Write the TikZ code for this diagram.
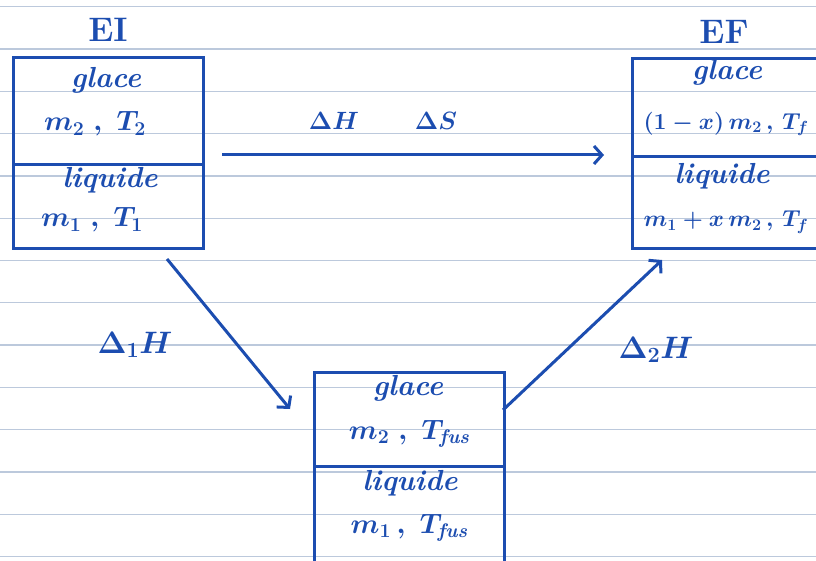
\RequirePackage{fix-cm}
\documentclass[tikz,border=0pt]{standalone}
\usetikzlibrary{arrows.meta,calc}
\definecolor{ink}{HTML}{1C4DB0}
\definecolor{ruling}{HTML}{BCC9DC}
\begin{document}
\begin{tikzpicture}[x=1pt,y=-1pt,
  box/.style={draw=ink, line width=3pt, rectangle, inner sep=0pt, anchor=north west},
  sep/.style={draw=ink, line width=3pt},
  lbl/.style={text=ink, inner sep=1pt, font=\fontsize{29}{34}\selectfont\boldmath\bfseries},
  frm/.style={text=ink, inner sep=1pt, font=\fontsize{28}{32}\selectfont\boldmath\bfseries},
  dlt/.style={text=ink, inner sep=1pt, font=\fontsize{25}{30}\selectfont\boldmath\bfseries},
  ttl/.style={text=ink, inner sep=1pt, font=\fontsize{34}{40}\selectfont\boldmath\bfseries},
  small/.style={text=ink, inner sep=1pt, font=\fontsize{23}{28}\selectfont\boldmath\bfseries},
  big/.style={text=ink, inner sep=1pt, font=\fontsize{31}{36}\selectfont\boldmath},
  arr/.style={draw=ink, line width=3pt, -{Straight Barb[length=8pt,width=18pt,line width=3pt]}}]
\clip (0,0) rectangle (816,561);
\fill[white] (0,0) rectangle (816,561);
\foreach \k in {0,...,13} \draw[ruling, line width=1.3pt] (0,{6.7+42.3*\k}) -- (816,{6.7+42.3*\k});

% boxes
\node[box, minimum width=190pt, minimum height=191pt] (ei) at (12,56) {};
\node[box, minimum width=200pt, minimum height=190pt] (ef) at (631,57) {};
\node[box, minimum width=190pt, minimum height=200pt] (mid) at (313,371) {};
\draw[sep] ($(ei.north west)!0.56!(ei.south west)$) -- ($(ei.north east)!0.56!(ei.south east)$);
\draw[sep] ($(ef.north west)!0.516!(ef.south west)$) -- ($(ef.north east)!0.516!(ef.south east)$);
\draw[sep] ($(mid.north west)!0.47!(mid.south west)$) -- ($(mid.north east)!0.47!(mid.south east)$);

% titles
\node[ttl] (tEI) at (108,30) {$\mathrm{EI}$};
\node[ttl] (tEF) at (724,32) {$\mathrm{EF}$};

% EI contents
\node[lbl] (eig) at (106,80) {\textit{glace}};
\node[frm] (eim) at (95,124) {$m_2\;,\;T_2$};
\node[lbl] (eil) at (110,180) {\textit{liquide}};
\node[frm] (eit) at (92,220) {$m_1\;,\;T_1$};

% EF contents
\node[lbl] (efg) at (727,72) {\textit{glace}};
\node[small] (efm) at (726,124) {$(1-x)\,m_2\,,\,T_f$};
\node[lbl] (efl) at (722,176) {\textit{liquide}};
\node[small] (eft) at (726,222) {$m_1+x\,m_2\,,\,T_f$};

% middle contents
\node[lbl] (mg) at (408,388) {\textit{glace}};
\node[frm] (mm) at (410,434) {$m_2\;,\;T_{\mathit{fus}}$};
\node[lbl] (ml) at (410,483) {\textit{liquide}};
\node[frm] (mt) at (410,528) {$m_1\,,\;T_{\mathit{fus}}$};

% arrows
\coordinate (h1) at (222,155);
\coordinate (h2) at (604,155);
\draw[arr] (h1) -- (h2);
\node[dlt] (dH) at (334,121) {$\Delta H$};
\node[dlt] (dS) at (436,121) {$\Delta S$};

\coordinate (a1s) at (167,259);
\coordinate (a1e) at (290,409);
\draw[arr] (a1s) -- (a1e);
\node[big] (d1) at (135,345) {$\Delta_1 H$};

\coordinate (a2s) at (503,410);
\coordinate (a2e) at (662,260);
\draw[arr] (a2s) -- (a2e);
\node[big] (d2) at (656,350) {$\Delta_2 H$};
\end{tikzpicture}
\end{document}
